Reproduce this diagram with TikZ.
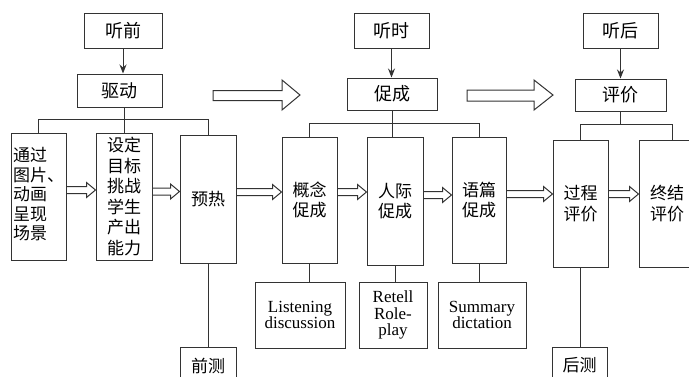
\documentclass[tikz,border=0pt]{standalone}
\usepackage{fontspec}
\setmainfont{Liberation Serif}
\newfontfamily\cjk{Noto Sans CJK SC}
\usetikzlibrary{calc,arrows.meta}
\begin{document}
\begin{tikzpicture}[x=1pt,y=-1pt,
  ln/.style={draw=black!80, line width=1pt},
  bx/.style={ln, inner sep=0pt, text=black, align=center,
    font=\cjk\fontsize{17}{20.5}\selectfont},
  lab/.style={bx, font=\cjk\fontsize{18}{20.5}\selectfont},
  en/.style={bx, font=\fontsize{17}{16.5}\selectfont},
  arr/.style={ln, -{Stealth[length=9pt,width=7pt]}},
  hollow/.style={ln, to path={let \p1=(\tikztostart), \p2=(\tikztotarget) in
    (\x1,\y1+3.5pt) -- (\x2-9pt,\y1+3.5pt) -- (\x2-9pt,\y1+7.5pt) -- (\x2,\y1)
    -- (\x2-9pt,\y1-7.5pt) -- (\x2-9pt,\y1-3.5pt) -- (\x1,\y1-3.5pt)}}]
\useasboundingbox (0,0) rectangle (689,376);
\clip (0,0) rectangle (689,376);
\fill[white] (0,0) rectangle (689,376);

% stage 1
\node[lab, minimum width=78, minimum height=35] (tq) at (123,30.5) {听前};
\node[lab, minimum width=85, minimum height=33] (qd) at (119.5,90.5) {驱动};
\node[bx, minimum width=55, minimum height=127] (b1) at (38.5,196.5)
  {\begin{tabular}{@{}l@{}}通过\\[-1pt]图片、\\[-1pt]动画\\[-1pt]呈现\\[-1pt]场景\end{tabular}};
\node[bx, minimum width=56, minimum height=127] (b2) at (124,196.5)
  {设定\\目标\\挑战\\学生\\产出\\能力};
\node[bx, minimum width=56, minimum height=128] (b3) at (208,199) {预热};
\node[bx, minimum width=56, minimum height=37] (qc) at (208,365.5) {前测};

% stage 2
\node[lab, minimum width=75, minimum height=35] (ts) at (391.5,30.5) {听时};
\node[lab, minimum width=90, minimum height=32] (cc) at (392,94) {促成};
\node[bx, minimum width=55, minimum height=126] (c1) at (309.5,200) {概念\\促成};
\node[bx, minimum width=56, minimum height=128] (c2) at (395,201) {人际\\促成};
\node[bx, minimum width=54, minimum height=126] (c3) at (479,200) {语篇\\促成};
\node[en, minimum width=90, minimum height=66] (e1) at (300,315) {Listening\\discussion};
\node[en, minimum width=68, minimum height=66] (e2) at (393,315) {Retell\\Role-\\play};
\node[en, minimum width=88, minimum height=66] (e3) at (482,315) {Summary\\dictation};

% stage 3
\node[lab, minimum width=75, minimum height=35] (th) at (620.5,30.5) {听后};
\node[lab, minimum width=91, minimum height=32] (pj) at (620.5,95) {评价};
\node[bx, minimum width=55, minimum height=127] (d1) at (580.5,203.5) {过程\\评价};
\node[bx, minimum width=56, minimum height=127] (d2) at (667,203.5) {终结\\评价};
\node[bx, minimum width=55, minimum height=37] (hc) at (579.5,365.5) {后测};

% down arrows
\draw[arr] (tq.south) -- (tq.south |- qd.north);
\draw[arr] (ts.south) -- (ts.south |- cc.north);
\draw[arr] (th.south) -- (th.south |- pj.north);

% brackets
\draw[ln] (b2.north) -- (b2.north |- qd.south);
\draw[ln] (b1.north) -- (b1.north |- 0,119) -- (b3.north |- 0,119) -- (b3.north);
\draw[ln] (cc.south) -- (cc.south |- c2.north);
\draw[ln] (c1.north) -- (c1.north |- 0,123) -- (c3.north |- 0,123) -- (c3.north);
\coordinate (d2n) at ($(d2.north)+(5,0)$);
\draw[ln] (pj.south) -- (pj.south |- 0,124);
\draw[ln] (d1.north) -- (d1.north |- 0,124) -- (d2n |- 0,124) -- (d2n);

% lines to lower boxes
\draw[ln] (b3.south) -- (b3.south |- qc.north);
\draw[ln] (c1.south) -- (c1.south |- e1.north);
\draw[ln] (c2.south) -- (c2.south |- e2.north);
\draw[ln] (c3.south) -- (c3.south |- e3.north);
\draw[ln] (d1.south) -- (d1.south |- hc.north);

% hollow arrows
\draw[hollow] ($(b1.east)+(0,-6.5)$) to ($(b2.west)+(0,-6.5)$);
\draw[hollow] ($(b2.east)+(0,-5)$) to ($(b3.west)+(0,-5)$);
\draw[hollow] ($(b3.east)+(0,-7)$) to ($(c1.west)+(0,-7)$);
\draw[hollow] ($(c1.east)+(0,-8)$) to ($(c2.west)+(0,-8)$);
\draw[hollow] ($(c2.east)+(0,-6)$) to ($(c3.west)+(0,-6)$);
\draw[hollow] ($(c3.east)+(0,-6)$) to ($(d1.west)+(0,-6)$);
\draw[hollow] ($(d1.east)+(0,-9.5)$) to ($(d2.west)+(0,-9.5)$);

% big hollow arrows
\draw[ln] (213,90.5) -- (282,90.5) -- (282,80) -- (300,95) -- (282,110) -- (282,100.5) -- (213,100.5) -- cycle;
\draw[ln] (467,90) -- (534,90) -- (534,80) -- (553,95) -- (534,110) -- (534,101) -- (467,101) -- cycle;
\end{tikzpicture}
\end{document}
